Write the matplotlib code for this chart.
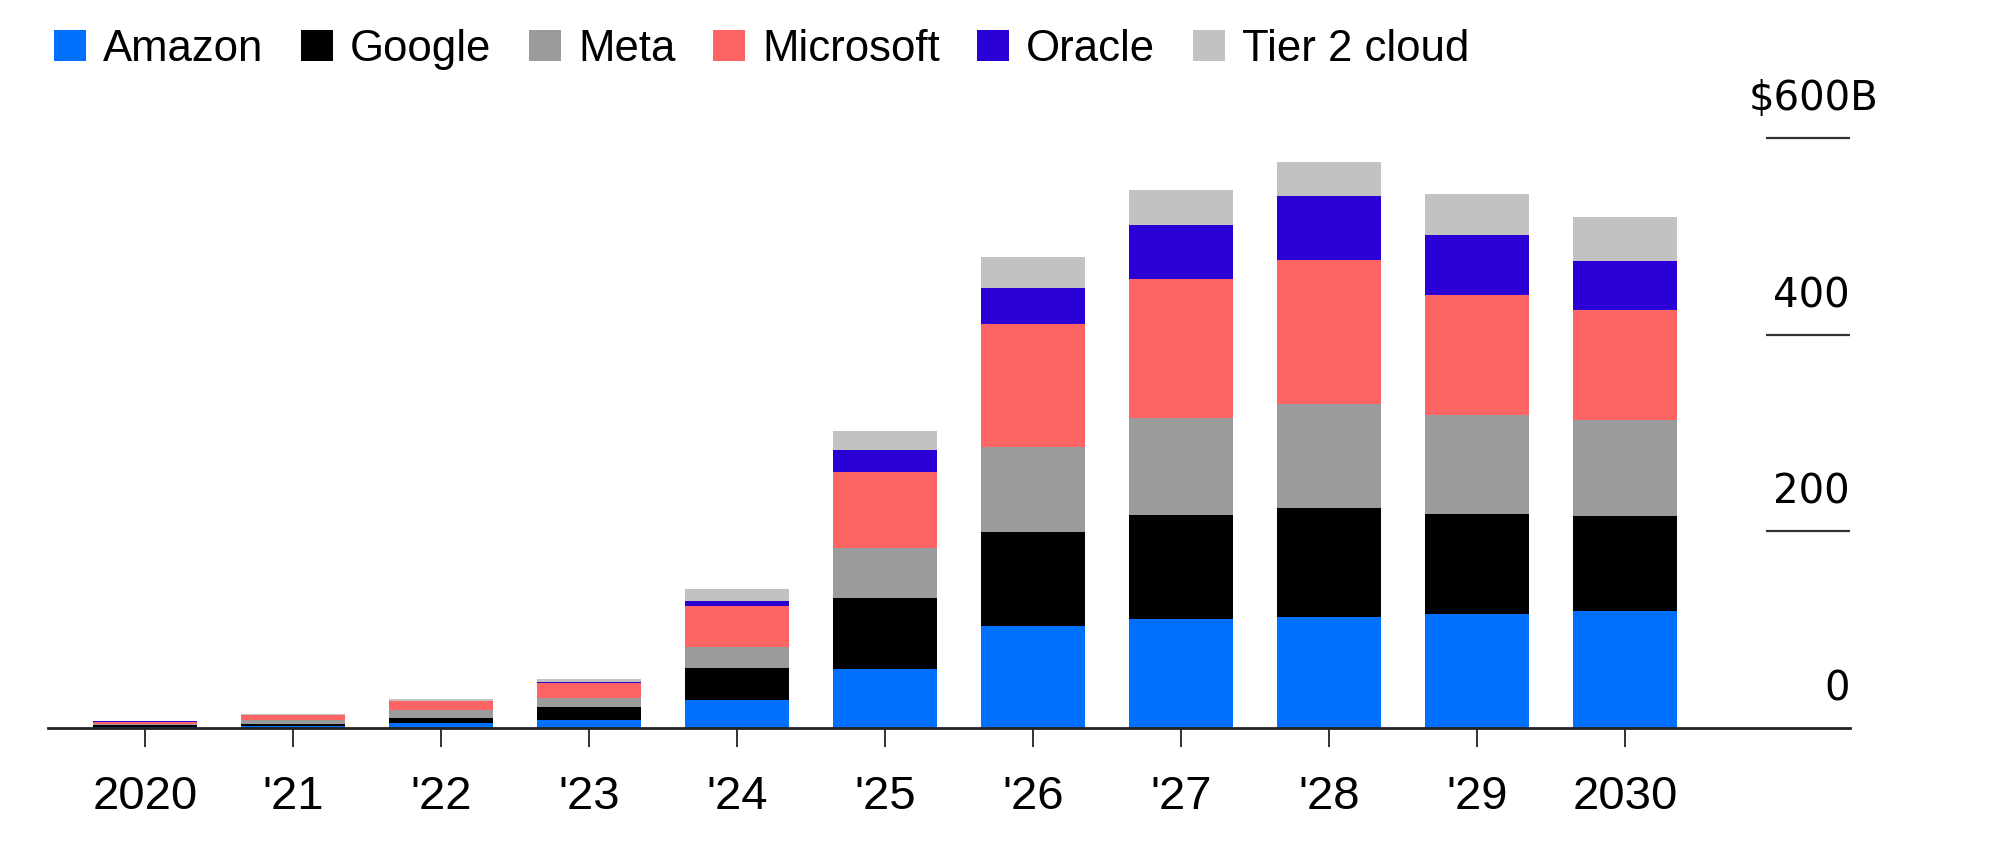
import matplotlib
matplotlib.use("Agg")
import matplotlib.pyplot as plt
import numpy as np

years = ["2020", "'21", "'22", "'23", "'24", "'25", "'26", "'27", "'28", "'29", "2030"]
series_names = ["Amazon", "Google", "Meta", "Microsoft", "Oracle", "Tier 2 cloud"]
amazon = [1.5, 2.5, 5, 8, 28, 60, 104, 111, 113, 116, 119]
google = [1.5, 2, 5.5, 13, 33, 72, 95, 106, 111, 102, 97]
meta = [1.5, 3.5, 8, 10, 21, 51, 87, 98, 105, 100, 97]
microsoft = [2, 5, 8.5, 15, 42, 77, 125, 142, 147, 122, 112]
oracle = [0.2, 0.3, 0.5, 1, 5, 23, 36, 55, 65, 61, 50]
tier2 = [0.5, 0.7, 1.5, 2.5, 12, 19, 32, 35, 35, 42, 45]
y_ticks = [0, 200, 400, 600]
y_labels = ["0", "200", "400", "$600B"]

colors = ["#0070FF", "#000000", "#9B9B9B", "#FF6464", "#2A00D5", "#C2C2C2"]
values = [amazon, google, meta, microsoft, oracle, tier2]

W, H = 2000, 857
fig = plt.figure(figsize=(W / 100, H / 100), dpi=100)
base_px = 728
top_val = 640
px_per_unit = 590 / 600
ax_h_px = top_val * px_per_unit
ax = fig.add_axes([48 / W, (H - base_px) / H, (1850 - 48) / W, ax_h_px / H])

x = np.arange(len(years))
bottom = np.zeros(len(years))
handles = []
for name, vals, c in zip(series_names, values, colors):
    b = ax.bar(x, vals, width=0.7, bottom=bottom, color=c, label=name,
               linewidth=0, zorder=2)
    handles.append(b)
    bottom += np.array(vals)

ax.set_xlim(-0.654, 11.52)
ax.set_ylim(0, top_val)

for s in ["top", "right", "left"]:
    ax.spines[s].set_visible(False)
ax.spines["bottom"].set_color("#222222")
ax.spines["bottom"].set_linewidth(2.0)
ax.spines["bottom"].set_zorder(3)

ax.set_yticks([])
ax.set_xticks(x)
ax.set_xticklabels(years, fontsize=34, family="Liberation Sans")
ax.tick_params(axis="x", direction="out", length=14, width=1.4,
               color="#333333", pad=20)

# right-side grid stubs and labels
x0 = 10.95
for v, lab in zip(y_ticks, y_labels):
    if v > 0:
        ax.hlines(v, x0, 11.52, color="#333333", linewidth=1.6, zorder=3)
    off = 28 if lab.startswith("$") else 0
    ax.annotate(lab, xy=(11.52, v), xycoords="data",
                xytext=(off, 27.5), textcoords="offset pixels",
                ha="right", va="baseline", fontsize=29,
                family="DejaVu Sans", color="#000000")

leg = fig.legend(handles=handles, labels=series_names, loc="upper left",
                 bbox_to_anchor=(54 / W, (H - 29) / H), ncol=6, frameon=False,
                 prop={"family": "Liberation Sans", "size": 31.5},
                 handlelength=0.72, handleheight=0.72, handletextpad=0.4,
                 columnspacing=0.86, borderpad=0, borderaxespad=0)

fig.savefig("out.png", dpi=100)
